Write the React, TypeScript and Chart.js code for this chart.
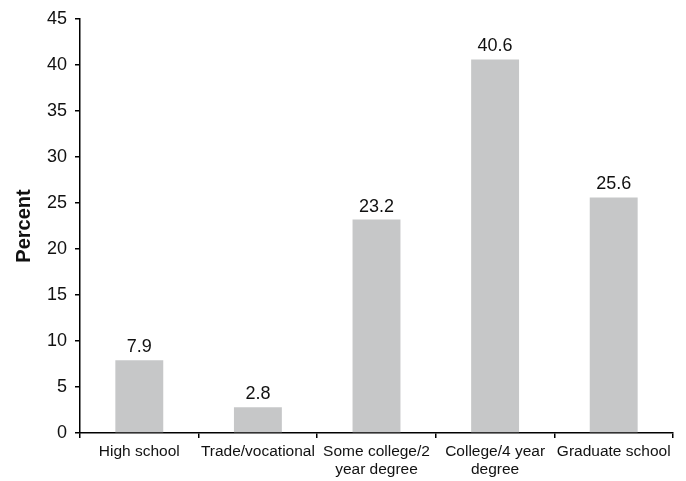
import React, { useEffect, useRef } from "react";
import { Chart, registerables } from "chart.js";

Chart.register(...registerables);

const categories: (string | string[])[] = [
  "High school",
  "Trade/vocational",
  ["Some college/2", "year degree"],
  ["College/4 year", "degree"],
  "Graduate school",
];
const percents = [7.9, 2.8, 23.2, 40.6, 25.6];
const yTicks = [0, 5, 10, 15, 20, 25, 30, 35, 40, 45];

const FONT = "'Liberation Sans', Arial, Helvetica, sans-serif";
const BAR_COLOR = "#c6c7c8";

const valueLabels = {
  id: "valueLabels",
  afterDatasetsDraw(chart: any) {
    const ctx = chart.ctx;
    const meta = chart.getDatasetMeta(0);
    ctx.save();
    ctx.font = `18px ${FONT}`;
    ctx.fillStyle = "#111";
    ctx.textAlign = "center";
    ctx.textBaseline = "alphabetic";
    meta.data.forEach((bar: any, i: number) => {
      ctx.fillText(percents[i].toFixed(1), bar.x, bar.y - 8);
    });
    ctx.restore();
  },
};

export default function App() {
  const canvasRef = useRef<HTMLCanvasElement | null>(null);

  useEffect(() => {
    const canvas = canvasRef.current;
    if (!canvas) return;
    const chart = new Chart(canvas, {
      type: "bar",
      data: {
        labels: categories,
        datasets: [
          {
            data: percents,
            backgroundColor: BAR_COLOR,
            borderWidth: 0,
            categoryPercentage: 1,
            barPercentage: 0.404,
          },
        ],
      },
      options: {
        responsive: false,
        animation: false,
        layout: { padding: { top: 19, right: 13, left: 0, bottom: 0 } },
        plugins: {
          legend: { display: false },
          tooltip: { enabled: false },
        },
        scales: {
          x: {
            offset: true,
            grid: {
              display: true,
              offset: true,
              drawOnChartArea: false,
              drawTicks: true,
              tickLength: 5,
              color: "#000",
              lineWidth: 1.5,
            },
            border: { display: true, color: "#000", width: 1.5 },
            ticks: {
              color: "#111",
              padding: 4,
              maxRotation: 0,
              autoSkip: false,
              font: { family: FONT, size: 15.5 },
            },
            afterFit: (scale: any) => {
              scale.height = 48;
            },
          },
          y: {
            min: 0,
            max: 45,
            afterBuildTicks: (scale: any) => {
              scale.ticks = yTicks.map((v) => ({ value: v }));
            },
            grid: {
              display: true,
              drawOnChartArea: false,
              drawTicks: true,
              tickLength: 5,
              color: "#000",
              lineWidth: 1.5,
            },
            border: { display: true, color: "#000", width: 1.5 },
            ticks: {
              color: "#111",
              padding: 8,
              font: { family: FONT, size: 18 },
            },
            title: {
              display: true,
              text: "Percent",
              color: "#111",
              padding: { top: 12, bottom: 0 },
              font: { family: FONT, size: 20, weight: "bold" },
            },
            afterFit: (scale: any) => {
              scale.width = 80;
            },
          },
        },
      },
      plugins: [valueLabels],
    });
    return () => chart.destroy();
  }, []);

  return (
    <div style={{ position: "fixed", left: 0, top: 0, width: 686, height: 481, background: "#fff" }}>
      <canvas ref={canvasRef} width={686} height={481} />
    </div>
  );
}
